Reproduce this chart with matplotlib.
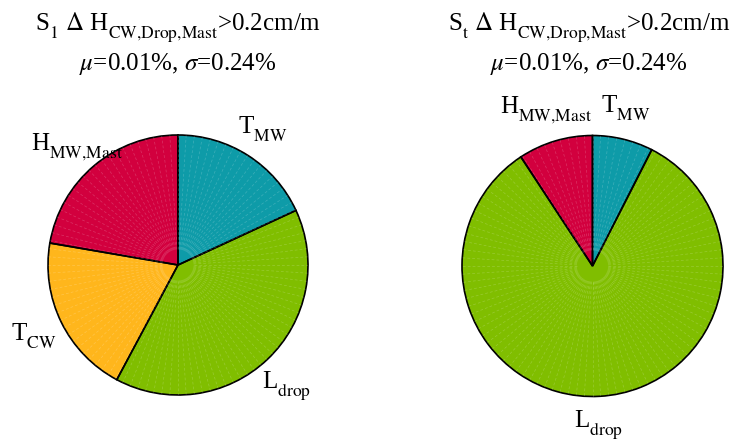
import matplotlib.pyplot as plt
import numpy as np
from matplotlib import _mathtext

plt.rcParams['font.family'] = ['Liberation Serif', 'DejaVu Serif']
plt.rcParams['mathtext.fontset'] = 'stix'
# the original puts subscripts noticeably lower than mathtext does
_mathtext.STIXFontConstants.sub1 = 0.75
_mathtext.STIXFontConstants.subdrop = 0.75

# shares (%) of each contributor, clockwise from the top
labels = ['T$_{\\rm MW}$', 'L$_{\\rm drop}$', 'T$_{\\rm CW}$', 'H$_{\\rm MW{,}Mast}$']
share_s1 = [18.1, 39.7, 19.9, 22.3]
share_st = [7.5, 83.25, 0.0, 9.25]
colors = ['#0e9ba8', '#80be00', '#ffb61c', '#d2003e']

titles = [r'S$_{1}$ $\Delta$ H$_{\rm CW{,}Drop{,}Mast}$>0.2cm/m' + '\n' + r'$\mu$=0.01%, $\sigma$=0.24%',
          r'S$_{\rm t}$ $\Delta$ H$_{\rm CW{,}Drop{,}Mast}$>0.2cm/m' + '\n' + r'$\mu$=0.01%, $\sigma$=0.24%']

fig = plt.figure(figsize=(7.37, 4.43), dpi=100)
W, H = 737, 443


def pie_axes(cx, cy, r):
    return fig.add_axes([(cx - r) / W, (H - cy - r) / H, 2 * r / W, 2 * r / H])


def draw_pie(ax, shares, nudges):
    keep = [i for i, s in enumerate(shares) if s > 0]
    vals = [shares[i] for i in keep]
    cols = [colors[i] for i in keep]
    labs = [labels[i] for i in keep]
    wedges, texts = ax.pie(vals, colors=cols, labels=labs, startangle=90,
                           counterclock=False, radius=1, labeldistance=1.12,
                           wedgeprops=dict(linewidth=0),
                           textprops=dict(fontsize=18))
    # faint radial streaks like the original rendering
    for a in np.arange(0, 360, 3.6):
        t = np.deg2rad(a)
        ax.plot([0.12 * np.cos(t), np.cos(t)], [0.12 * np.sin(t), np.sin(t)],
                color='white', lw=0.5, alpha=0.2, ls=(0, (4, 3)), zorder=3)
    ax.pie(vals, colors=['none'] * len(vals), startangle=90, counterclock=False,
           radius=1, wedgeprops=dict(linewidth=1.2, edgecolor='black',
                                     joinstyle='miter'))
    for txt, lab in zip(texts, labs):
        dx, dy = nudges.get(lab, (0, 0))
        x, y = txt.get_position()
        txt.set_position((x + dx, y + dy))
        txt.set_clip_on(False)
    ax.set_xlim(-1, 1)
    ax.set_ylim(-1, 1)
    ax.set_aspect('equal')
    ax.axis('off')


ax1 = pie_axes(178, 265, 130)
draw_pie(ax1, share_s1, {labels[0]: (-0.14, 0.1), labels[1]: (-0.12, -0.12),
                         labels[2]: (0.07, -0.06), labels[3]: (0.3, 0.05)})
ax2 = pie_axes(592.5, 266, 130.5)
draw_pie(ax2, share_st, {labels[0]: (-0.2, 0.12), labels[1]: (-0.2, -0.1),
                         labels[3]: (0.32, 0.12)})

fig.text(178 / W, 1 - 44 / H, titles[0], ha='center', va='center', fontsize=18,
         linespacing=1.35)
fig.text(589 / W, 1 - 44 / H, titles[1], ha='center', va='center', fontsize=18,
         linespacing=1.35)

fig.savefig('out.png', dpi=100)
